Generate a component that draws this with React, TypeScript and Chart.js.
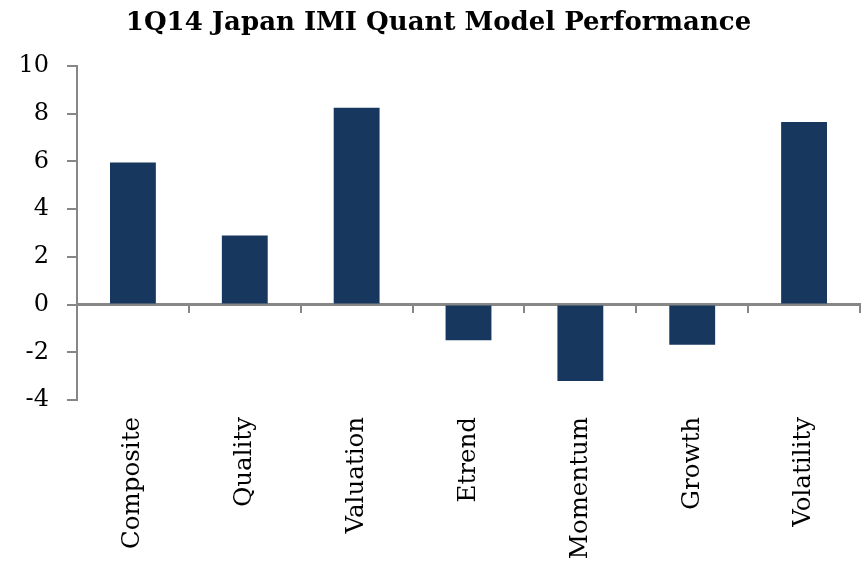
import React, { useEffect, useRef } from "react";
import { Chart, registerables } from "chart.js";

Chart.register(...registerables);

const categories = ["Composite", "Quality", "Valuation", "Etrend", "Momentum", "Growth", "Volatility"];
const performance = [5.95, 2.9, 8.25, -1.5, -3.2, -1.68, 7.65];
const yTicks = [-4, -2, 0, 2, 4, 6, 8, 10];
const titleText = "1Q14 Japan IMI Quant Model Performance";

const FONT = "'DejaVu Serif', serif";
const AXIS_GRAY = "#878787";

export default function App() {
  const ref = useRef<HTMLCanvasElement | null>(null);

  useEffect(() => {
    if (!ref.current) return;
    const chart = new Chart(ref.current, {
      type: "bar",
      data: {
        labels: categories,
        datasets: [
          {
            data: performance,
            backgroundColor: "#17375E",
            borderWidth: 0,
            barPercentage: 0.41,
            categoryPercentage: 1,
            xAxisID: "x",
          },
        ],
      },
      options: {
        animation: false,
        responsive: false,
        maintainAspectRatio: false,
        layout: { padding: { left: 17, right: 7, top: 4, bottom: 0 } },
        plugins: {
          legend: { display: false },
          tooltip: { enabled: false },
          title: {
            display: true,
            text: titleText,
            color: "#000",
            font: { family: FONT, size: 26, weight: "bold" },
            padding: { top: 4, bottom: 26.8 },
          },
        },
        scales: {
          x: {
            type: "category",
            position: "bottom",
            offset: true,
            grid: { display: false },
            border: { display: false },
            afterFit: (axis: any) => {
              axis.height = 163;
            },
            ticks: {
              color: "#000",
              font: { family: FONT, size: 24.5 },
              minRotation: 90,
              maxRotation: 90,
              autoSkip: false,
              padding: 9,
            },
          },
          x0: {
            type: "category",
            labels: categories,
            position: { y: 0 },
            offset: true,
            grid: {
              display: true,
              offset: true,
              drawOnChartArea: false,
              drawTicks: true,
              tickLength: 7,
              color: AXIS_GRAY,
              lineWidth: 2,
            },
            border: { display: true, color: AXIS_GRAY, width: 3 },
            ticks: { display: false },
          },
          y: {
            min: -4,
            max: 10,
            afterBuildTicks: (axis: any) => {
              axis.ticks = yTicks.map((v) => ({ value: v }));
            },
            afterFit: (axis: any) => {
              axis.width = 60;
            },
            grid: {
              drawOnChartArea: false,
              drawTicks: true,
              tickLength: 10,
              color: AXIS_GRAY,
              lineWidth: 2,
            },
            border: { display: true, color: AXIS_GRAY, width: 2 },
            ticks: {
              color: "#000",
              font: { family: FONT, size: 24 },
              padding: 18,
            },
          },
        },
      },
    });
    return () => chart.destroy();
  }, []);

  return (
    <div style={{ position: "fixed", left: 0, top: 0, width: 867, height: 563, background: "#fff" }}>
      <canvas ref={ref} width={867} height={563} style={{ width: 867, height: 563 }} />
    </div>
  );
}
